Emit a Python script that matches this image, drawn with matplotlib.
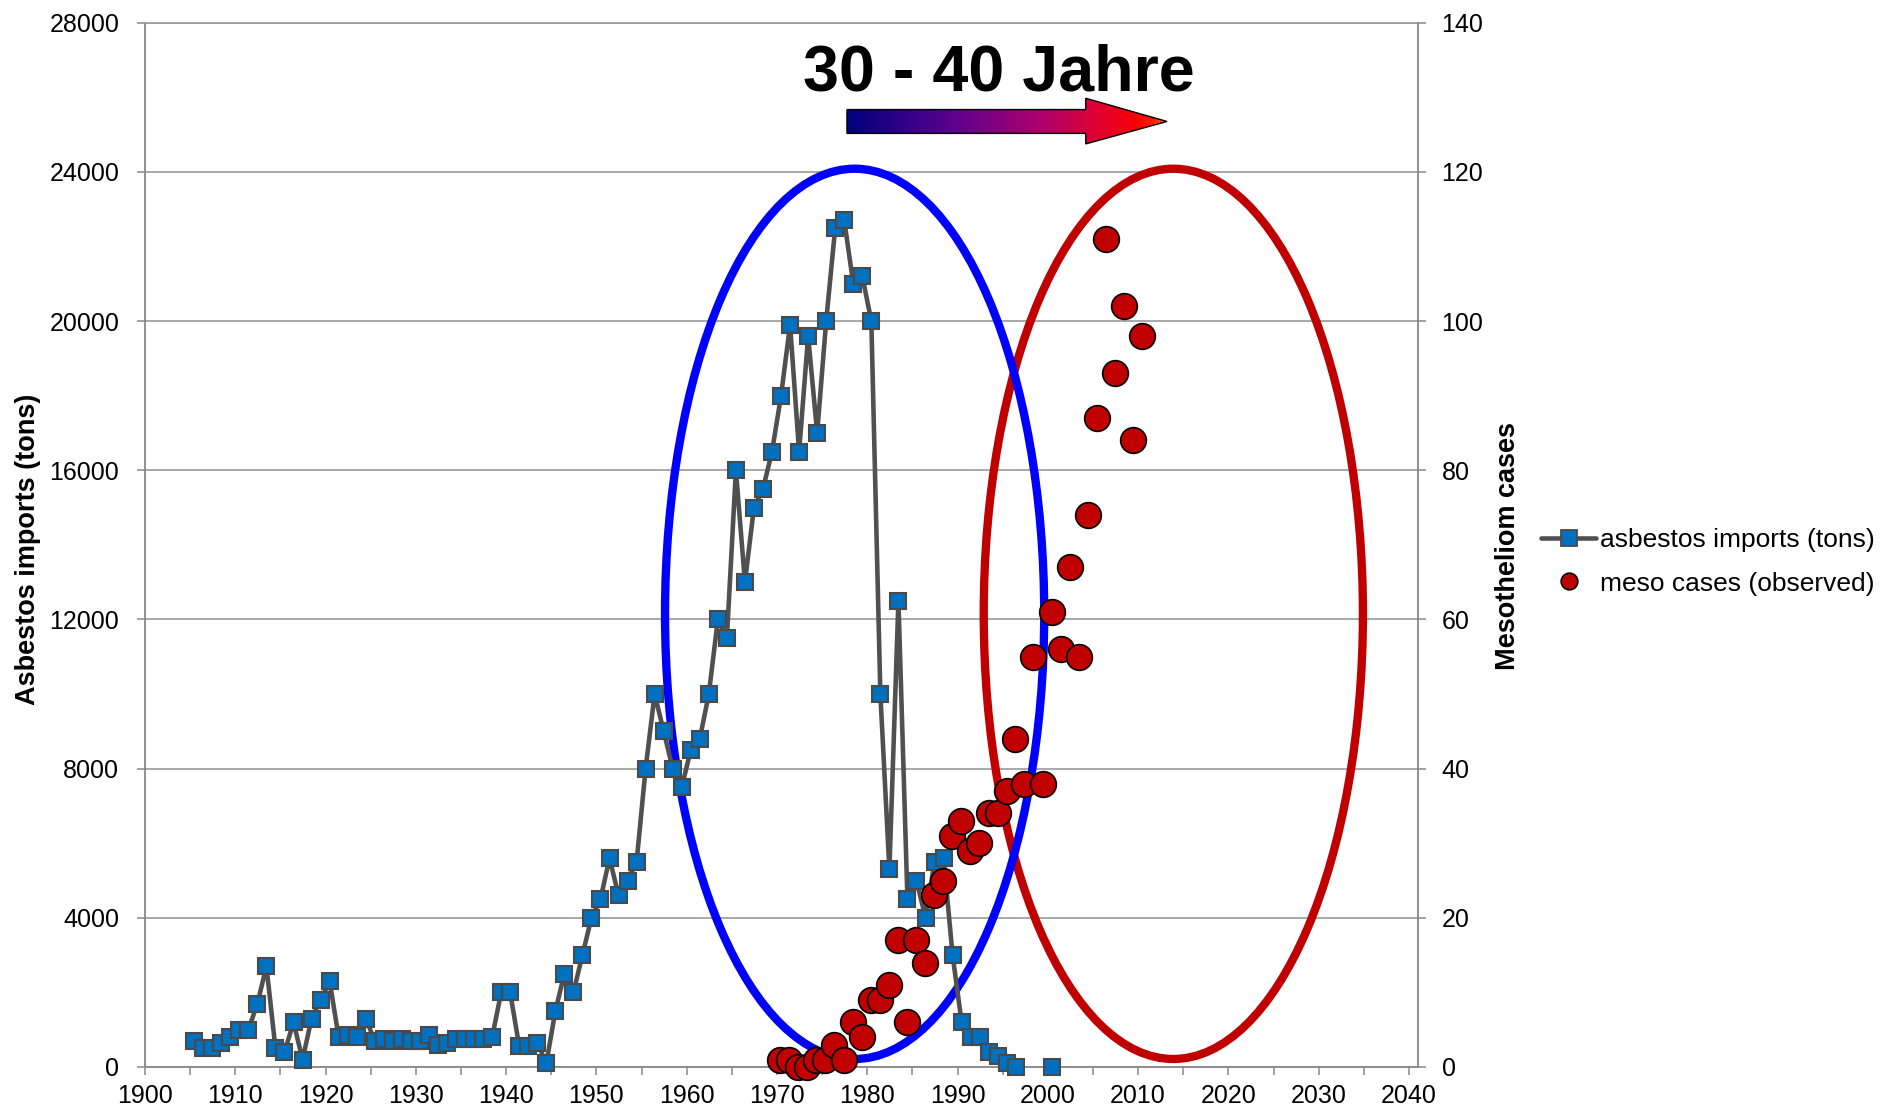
import numpy as np
import matplotlib
matplotlib.use('Agg')
import matplotlib.pyplot as plt
from matplotlib.patches import Ellipse, Polygon
from matplotlib.lines import Line2D
from matplotlib.colors import LinearSegmentedColormap

plt.rcParams['font.family'] = ['Liberation Sans', 'DejaVu Sans']

# ---------------- data ----------------
import_years = [1905.45, 1906.45, 1907.45, 1908.45, 1909.45, 1910.45, 1911.45, 1912.45,
                1913.45, 1914.45, 1915.45, 1916.45, 1917.45, 1918.45, 1919.45, 1920.45,
                1921.45, 1922.45, 1923.45, 1924.45, 1925.45, 1926.45, 1927.45, 1928.45,
                1929.45, 1930.45, 1931.45, 1932.45, 1933.45, 1934.45, 1935.45, 1936.45,
                1937.45, 1938.45, 1939.45, 1940.45, 1941.45, 1942.45, 1943.45, 1944.45,
                1945.45, 1946.45, 1947.45, 1948.45, 1949.45, 1950.45, 1951.45, 1952.45,
                1953.45, 1954.45, 1955.45, 1956.45, 1957.45, 1958.45, 1959.45, 1960.45,
                1961.45, 1962.45, 1963.45, 1964.45, 1965.45, 1966.45, 1967.45, 1968.45,
                1969.45, 1970.45, 1971.45, 1972.45, 1973.45, 1974.45, 1975.45, 1976.45,
                1977.45, 1978.45, 1979.45, 1980.45, 1981.45, 1982.45, 1983.45, 1984.45,
                1985.45, 1986.45, 1987.45, 1988.45, 1989.45, 1990.45, 1991.45, 1992.45,
                1993.45, 1994.45, 1995.45, 1996.45, 1997.45, 1998.45, 1999.45, 2000.45]
# None = no value reported (gap in the line)
import_tons = [700, 500, 500, 650, 800, 1000, 1000, 1700,
               2700, 500, 400, 1200, 200, 1300, 1800, 2300,
               800, 850, 800, 1300, 700, 750, 700, 750,
               700, 700, 850, 600, 650, 750, 750, 750,
               750, 800, 2000, 2000, 550, 550, 650, 100,
               1500, 2500, 2000, 3000, 4000, 4500, 5600, 4600,
               5000, 5500, 8000, 10000, 9000, 8000, 7500, 8500,
               8800, 10000, 12000, 11500, 16000, 13000, 15000, 15500,
               16500, 18000, 19900, 16500, 19600, 17000, 20000, 22500,
               22700, 21000, 21200, 20000, 10000, 5300, 12500, 4500,
               5000, 4000, 5500, 5600, 3000, 1200, 800, 800,
               400, 300, 100, 0, None, None, None, 0]

meso_years = [1970.3, 1971.3, 1972.3, 1973.3, 1974.3, 1975.3, 1976.35, 1977.4,
              1978.4, 1979.4, 1980.4, 1981.4, 1982.4, 1983.45, 1984.45, 1985.4,
              1986.4, 1987.4, 1988.4, 1989.4, 1990.4, 1991.4, 1992.4, 1993.45,
              1994.45, 1995.45, 1996.4, 1997.4, 1998.4, 1999.45, 2000.45, 2001.45,
              2002.45, 2003.45, 2004.45, 2005.45, 2006.45, 2007.45, 2008.45, 2009.45,
              2010.45]
meso_cases = [1, 1, 0, 0, 1, 1, 3, 1,
              6, 4, 9, 9, 11, 17, 6, 17,
              14, 23, 25, 31, 33, 29, 30, 34,
              34, 37, 44, 38, 55, 38, 61, 56,
              67, 55, 74, 87, 111, 93, 102, 84,
              98]

x_ticks = [1900, 1910, 1920, 1930, 1940, 1950, 1960, 1970, 1980, 1990,
           2000, 2010, 2020, 2030, 2040]
x_minor_ticks = [1905, 1915, 1925, 1935, 1945, 1955, 1965, 1975, 1985, 1995,
                 2005, 2015, 2025, 2035]
y_left_ticks = [0, 4000, 8000, 12000, 16000, 20000, 24000, 28000]
y_right_ticks = [0, 20, 40, 60, 80, 100, 120, 140]

label_left = 'Asbestos imports (tons)'
label_right = 'Mesotheliom cases'
legend_imports = 'asbestos imports (tons)'
legend_meso = 'meso cases (observed)'
title_text = '30 - 40 Jahre'

# ---------------- styling ----------------
W, H, DPI = 1883, 1115, 100
fig = plt.figure(figsize=(W / DPI, H / DPI), dpi=DPI)
ax = fig.add_axes([145 / W, 48 / H, (1418 - 145) / W, (1067 - 22.7) / H])
ax2 = ax.twinx()

spine_col = '#888888'
grid_col = '#9a9a9a'
line_col = '#505050'
sq_face = '#0070C0'
sq_edge = '#4a4a4a'
meso_face = '#C00000'

ax.set_xlim(1900, 2041)
ax.set_ylim(0, 28000)
ax2.set_ylim(0, 140)

ax.set_xticks(x_ticks)
ax.set_xticklabels([str(t) for t in x_ticks])
ax.set_xticks(x_minor_ticks, minor=True)
ax.set_yticks(y_left_ticks)
ax.set_yticklabels([str(t) for t in y_left_ticks])
ax2.set_yticks(y_right_ticks)
ax2.set_yticklabels([str(t) for t in y_right_ticks])

ax.yaxis.grid(True, color=grid_col, lw=1.2)
ax.set_axisbelow(True)

for s in ['left', 'bottom']:
    ax.spines[s].set_color(spine_col)
    ax.spines[s].set_linewidth(1.3)
ax.spines['right'].set_visible(False)
ax.spines['top'].set_color(grid_col)
ax.spines['top'].set_linewidth(1.2)
for s in ['left', 'bottom', 'top']:
    ax2.spines[s].set_visible(False)
ax2.spines['right'].set_color(spine_col)
ax2.spines['right'].set_linewidth(1.3)

ax.tick_params(axis='x', which='both', direction='out', length=6, width=1.1,
               color=spine_col, labelsize=18, pad=6.5)
ax.tick_params(axis='y', which='both', direction='out', length=6, width=1.1,
               color=spine_col, labelsize=18, pad=12.5)
ax2.tick_params(axis='y', direction='out', length=6, width=1.1,
                color=spine_col, labelsize=18, pad=11)

# ---------------- ellipses ----------------
ell_w, ell_h = 42.0, 23870
blue_c = (1978.6, 12150)
red_c = (2013.9, 12150)
ax.add_patch(Ellipse(blue_c, ell_w, ell_h, fill=False, edgecolor='#0000FF',
                     lw=6, zorder=1.5))
ax.add_patch(Ellipse(red_c, ell_w, ell_h, fill=False, edgecolor='#C00000',
                     lw=6, zorder=1.4))

# ---------------- data series ----------------
tons = np.array([np.nan if v is None else v for v in import_tons], dtype=float)
ax.plot(import_years, tons, color=line_col, lw=3.3, marker='s', ms=12,
        mfc=sq_face, mec=sq_edge, mew=1.5, zorder=3, clip_on=False)
ax2.plot(meso_years, meso_cases, ls='none', marker='o', ms=18.5,
         mfc=meso_face, mec='black', mew=1.2, zorder=3, clip_on=False)

# ---------------- gradient arrow ----------------
ax_x0, ax_hb, ax_tip = 1977.75, 2004.2, 2013.2
body_lo, body_hi = 25032, 25671
head_lo, head_hi = 24750, 25974
mid = (body_lo + body_hi) / 2
arrow_pts = [(ax_x0, body_lo), (ax_hb, body_lo), (ax_hb, head_lo), (ax_tip, mid),
             (ax_hb, head_hi), (ax_hb, body_hi), (ax_x0, body_hi)]
poly = Polygon(arrow_pts, closed=True, facecolor='none', edgecolor='black',
               lw=1.0, zorder=6)
ax.add_patch(poly)
cmap = LinearSegmentedColormap.from_list('arr', [
    (0.0, '#00007F'), (0.35, '#62008E'), (0.62, '#B2006A'),
    (0.8, '#E4002A'), (0.9, '#FA0008'), (0.96, '#FF2000'), (1.0, '#FF7000')])
grad = np.linspace(0, 1, 400).reshape(1, -1)
im = ax.imshow(grad, extent=[ax_x0, ax_tip, head_lo, head_hi], aspect='auto',
               cmap=cmap, zorder=5, interpolation='bilinear')
im.set_clip_path(poly)
ax.set_xlim(1900, 2041)
ax.set_ylim(0, 28000)

ax.text(1994.6, 26188, title_text, ha='center', va='baseline',
        fontsize=46.5, fontweight='bold', color='black', zorder=7)

# ---------------- axis labels ----------------
fig.text(28 / W, 1 - 549 / H, label_left, rotation=90, ha='center', va='center',
         fontsize=19.5, fontweight='bold')
fig.text(1508 / W, 1 - 546 / H, label_right, rotation=90, ha='center', va='center',
         fontsize=19.5, fontweight='bold')

# ---------------- legend ----------------
h1 = Line2D([], [], color=line_col, lw=3.3, marker='s', ms=11, mfc=sq_face,
            mec=sq_edge, mew=1.3, solid_capstyle='round')
h2 = Line2D([], [], ls='none', marker='o', ms=12, mfc=meso_face, mec='black',
            mew=1.2)
fig.legend([h1, h2], [legend_imports, legend_meso], loc='center left',
           bbox_to_anchor=(1541 / W, 1 - 562 / H), frameon=False, fontsize=19,
           handlelength=2.1, handletextpad=0.15, labelspacing=0.72,
           borderpad=0, borderaxespad=0)

fig.savefig('out.png', dpi=DPI)
